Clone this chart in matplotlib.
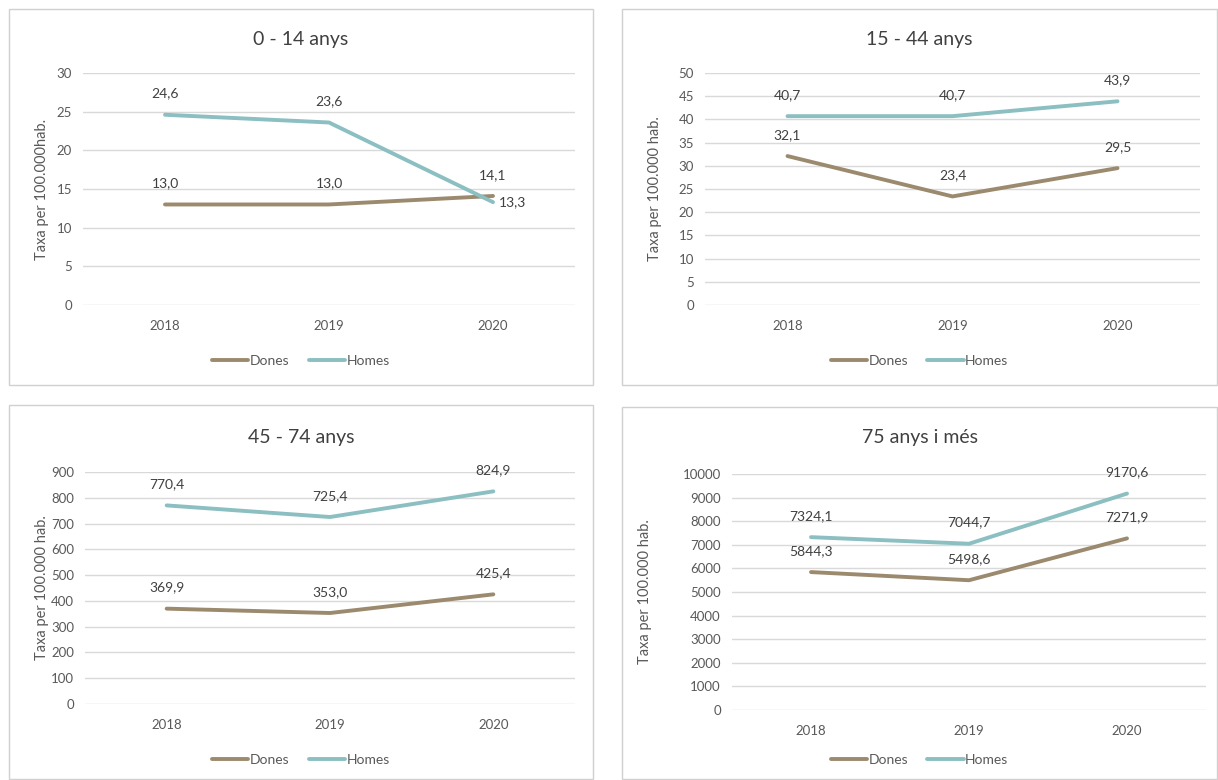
import matplotlib.pyplot as plt
from matplotlib.patches import Rectangle

plt.rcParams['font.family'] = ['Lato', 'DejaVu Sans']

W, H = 1218, 780

years = ['2018', '2019', '2020']

titles = ['0 - 14 anys', '15 - 44 anys', '45 - 74 anys', '75 anys i més']
ylabels = ['Taxa per 100.000hab.', 'Taxa per 100.000 hab.',
           'Taxa per 100.000 hab.', 'Taxa per 100.000 hab.']

dones_0_14 = [13.0, 13.0, 14.1]
homes_0_14 = [24.6, 23.6, 13.3]
dones_15_44 = [32.1, 23.4, 29.5]
homes_15_44 = [40.7, 40.7, 43.9]
dones_45_74 = [369.9, 353.0, 425.4]
homes_45_74 = [770.4, 725.4, 824.9]
dones_75 = [5844.3, 5498.6, 7271.9]
homes_75 = [7324.1, 7044.7, 9170.6]

dones = [dones_0_14, dones_15_44, dones_45_74, dones_75]
homes = [homes_0_14, homes_15_44, homes_45_74, homes_75]

ymax = [30, 50, 900, 10000]
ystep = [5, 5, 100, 1000]

C_DONES = '#9C8A6E'
C_HOMES = '#8BBFC1'
C_TEXT = '#595959'

# panel frames and plot areas in pixels (x0, y0, x1, y1), origin top-left
frames = [(9, 9, 593, 385), (622, 9, 1217, 385),
          (9, 405, 593, 779), (622, 407, 1217, 779)]
areas = [(83, 73, 575, 305), (705, 73, 1200, 305),
         (85, 472, 575, 704), (732, 474, 1206, 710)]
title_y = [40, 40, 437, 437]
legend_y = [361, 361, 760, 760]
ylabel_x = [42, 655, 42, 645]


def rect(x0, y0, x1, y1):
    return [x0 / W, 1 - y1 / H, (x1 - x0) / W, (y1 - y0) / H]


def fmt(v):
    return f'{v:.1f}'.replace('.', ',')


fig = plt.figure(figsize=(W / 100, H / 100), dpi=100)

for i in range(4):
    fx0, fy0, fx1, fy1 = frames[i]
    fig.patches.append(Rectangle((fx0 / W, 1 - fy1 / H), (fx1 - fx0) / W,
                                 (fy1 - fy0) / H, transform=fig.transFigure,
                                 fill=False, edgecolor='#D0D0D0', lw=1))

    ax = fig.add_axes(rect(*areas[i]))
    x = range(len(years))
    ax.plot(x, dones[i], color=C_DONES, lw=2.8, label='Dones',
            solid_capstyle='round')
    ax.plot(x, homes[i], color=C_HOMES, lw=2.8, label='Homes',
            solid_capstyle='round')
    ax.set_xlim(-0.5, 2.5)
    ax.set_ylim(0, ymax[i])
    ax.set_yticks(range(0, ymax[i] + 1, ystep[i]))
    ax.set_xticks(list(x))
    ax.set_xticklabels(years)
    ax.grid(axis='y', color='#D9D9D9', lw=1)
    ax.set_axisbelow(True)
    for s in ax.spines.values():
        s.set_visible(False)
    ax.tick_params(length=0, colors=C_TEXT, labelsize=9.5)
    ax.tick_params(axis='x', pad=11)
    ax.tick_params(axis='y', pad=8)

    for series in (dones[i], homes[i]):
        for j, v in enumerate(series):
            dx, dy, ha = 0, 11, 'center'
            if i == 0 and series is homes[i] and j == 2:
                dx, dy, ha = 4, -4, 'left'
            ax.annotate(fmt(v), (j, v), xytext=(dx, dy),
                        textcoords='offset points', ha=ha, va='bottom',
                        fontsize=10, color='#404040')

    cx = (frames[i][0] + frames[i][2]) / 2
    fig.text(cx / W, 1 - title_y[i] / H, titles[i], ha='center',
             va='center', fontsize=14, color='#404040')
    fig.text(ylabel_x[i] / W, 1 - (areas[i][1] + areas[i][3]) / 2 / H,
             ylabels[i], rotation=90, ha='center', va='center',
             fontsize=10.5, color=C_TEXT)

    ax.legend(loc='center', bbox_to_anchor=(cx / W, 1 - legend_y[i] / H),
              bbox_transform=fig.transFigure, ncol=2, frameon=False,
              fontsize=10, handlelength=2.6, handletextpad=0.1,
              columnspacing=1.4, labelcolor=C_TEXT)

fig.savefig('out.png', dpi=100)
